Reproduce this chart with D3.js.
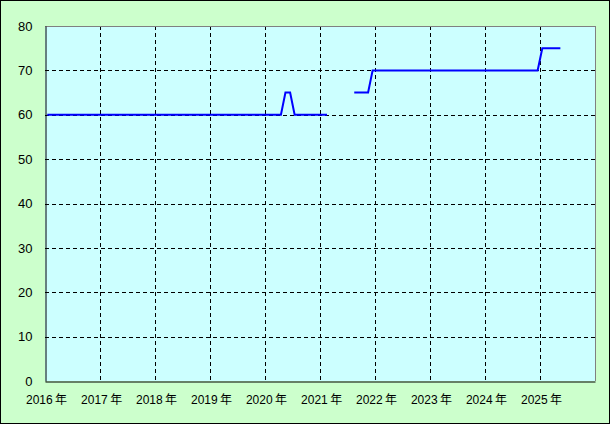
<!DOCTYPE html>
<html><head><meta charset="utf-8">
<script src="https://cdn.jsdelivr.net/npm/d3@7"></script>
<style>body{margin:0;background:#fff}svg{display:block}</style>
</head><body>
<svg id="c" width="610" height="424"></svg>
<script>
// breakpoints of the monthly series (null = gap)
const months = ["2016-01","2020-04","2020-05","2020-06","2020-07","2021-02","2021-05",
                "2021-08","2021-11","2021-12","2024-12","2025-01","2025-05"];
const values = [60,60,65,65,60,60,null,65,65,70,70,75,75];
const yTicks = [0,10,20,30,40,50,60,70,80];
const xTickYears = [2016,2017,2018,2019,2020,2021,2022,2023,2024,2025];

const svg = d3.select("#c");
const L=45,R=595,T=26,B=381;
svg.append("rect").attr("x",0.5).attr("y",0.5).attr("width",609).attr("height",423)
  .attr("fill","#ccffcc").attr("stroke","#000");
svg.append("rect").attr("x",L).attr("y",T).attr("width",R-L).attr("height",B-T).attr("fill","#ccffff");

const x = d3.scaleTime().domain([new Date(2016,0,1),new Date(2026,0,1)]).range([L,R]);
const y = d3.scaleLinear().domain([0,80]).range([B,T]);

const g = svg.append("g");
// grid
g.selectAll("line.hg").data(yTicks.filter(v=>v>0&&v<80)).join("line")
  .attr("x1",L).attr("x2",R).attr("y1",d=>Math.round(y(d))+0.5).attr("y2",d=>Math.round(y(d))+0.5)
  .attr("stroke","#000").attr("stroke-dasharray","4,3");
g.selectAll("line.vg").data(xTickYears.slice(1)).join("line")
  .attr("y1",T).attr("y2",B).attr("x1",d=>Math.round(x(new Date(d,0,1)))+0.5).attr("x2",d=>Math.round(x(new Date(d,0,1)))+0.5)
  .attr("stroke","#000").attr("stroke-dasharray","4,3");

// border: top/right grey, left/bottom black
svg.append("line").attr("x1",L).attr("x2",R+0.5).attr("y1",T+0.5).attr("y2",T+0.5).attr("stroke","#808080");
svg.append("line").attr("x1",R+0.5).attr("x2",R+0.5).attr("y1",T).attr("y2",B).attr("stroke","#808080");

// axes
const ya = d3.axisLeft(y).tickValues(yTicks).tickSize(0).tickPadding(13);
const yg = svg.append("g").attr("transform",`translate(${L+0.5},0)`).call(ya);
yg.select(".domain").attr("stroke","#000");
yg.selectAll("text").attr("font-family","'Liberation Sans',Arial,sans-serif").attr("font-size","13px").attr("fill","#000");

const xa = d3.axisBottom(x).tickValues(xTickYears.map(v=>new Date(v,0,1)))
  .tickFormat(d=>d.getFullYear()+"\u2009年").tickSize(0).tickPadding(14);
const xg = svg.append("g").attr("transform",`translate(1,${B+0.5})`).call(xa);
xg.select(".domain").attr("transform","translate(-1,0)").attr("stroke","#000");
xg.selectAll("text").attr("font-family","'Liberation Sans','Noto Sans CJK JP',sans-serif").attr("font-size","12px").attr("fill","#000");

// line
const pts = months.map((m,i)=>{const [yy,mm]=m.split("-").map(Number);return {d:new Date(yy,mm-1,16),v:values[i]};});
const line = d3.line().defined(p=>p.v!==null).x(p=>x(p.d)).y(p=>y(p.v));
svg.append("path").attr("d",line(pts)).attr("fill","none").attr("stroke","#0000ff").attr("stroke-width",2);
</script>
</body></html>
